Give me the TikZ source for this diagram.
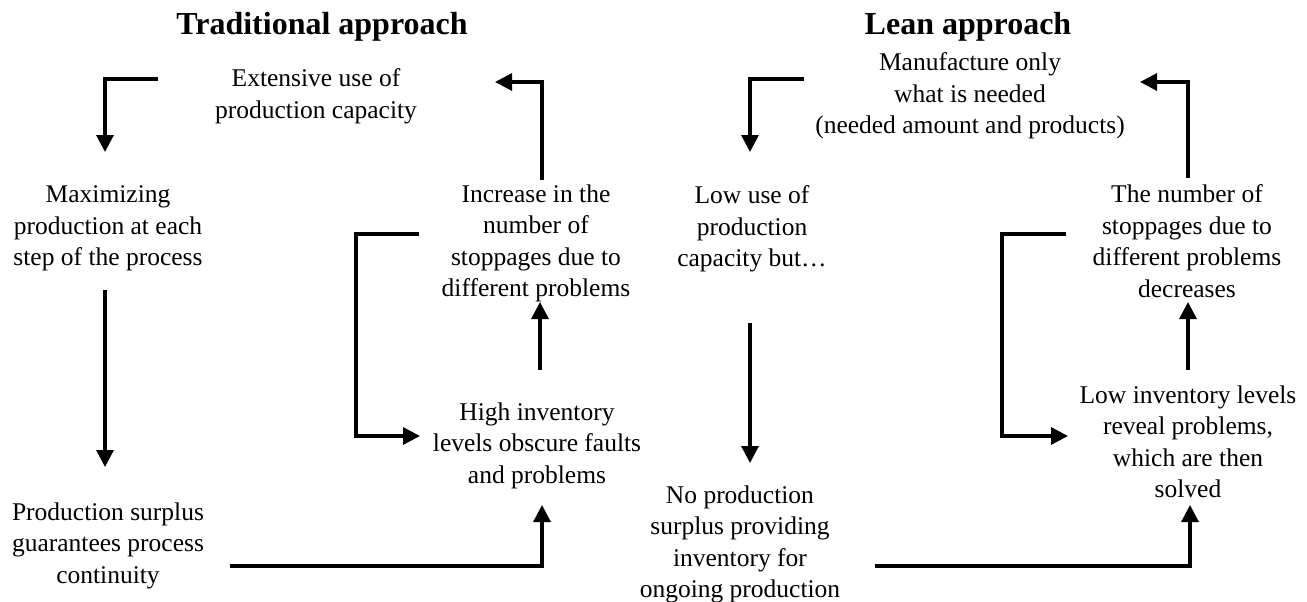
\documentclass[tikz,border=0pt]{standalone}
\usepackage{fontspec}
\setmainfont{Liberation Serif}
\usetikzlibrary{arrows.meta}
\begin{document}
\begin{tikzpicture}[x=1pt,y=-1pt,
  txt/.style={align=center, inner sep=0pt, anchor=north,
    font=\fontsize{25.5}{31.5}\selectfont},
  ttl/.style={inner sep=0pt, anchor=base,
    font=\fontsize{32}{38}\selectfont\bfseries},
  flow/.style={line width=3.2pt, -{Triangle[length=17pt,width=17pt]}},
]
\useasboundingbox (0,0) rectangle (1307,602);

% ---------- traditional cycle ----------
\node[ttl] (tradT) at (322,35) {Traditional approach};
\node[txt] (ext)  at (316,68.5) {Extensive use of\\production capacity};
\node[txt] (maxp) at (108,185.5) {Maximizing\\production at each\\step of the process};
\node[txt] (surp) at (108,502.5) {Production surplus\\guarantees process\\continuity};
\node[txt] (high) at (537,402.5) {High inventory\\levels obscure faults\\and problems};
\node[txt] (incr) at (536,184.5) {Increase in the\\number of\\stoppages due to\\different problems};

\coordinate (t1s) at (158,79);  \coordinate (t1c) at (105,79);  \coordinate (t1e) at (105,152);
\coordinate (t2s) at (105,290); \coordinate (t2e) at (105,467);
\coordinate (t3s) at (230,566); \coordinate (t3c) at (542,566); \coordinate (t3e) at (542,505);
\coordinate (t4s) at (540,370); \coordinate (t4e) at (540,302);
\coordinate (t5s) at (542,180); \coordinate (t5c) at (542,82);  \coordinate (t5e) at (495,82);
\coordinate (t6s) at (419,234); \coordinate (t6a) at (356,234); \coordinate (t6b) at (356,436);
\coordinate (t6e) at (420,436);

\draw[flow] (t1s) -- (t1c) -- (t1e);
\draw[flow] (t2s) -- (t2e);
\draw[flow] (t3s) -- (t3c) -- (t3e);
\draw[flow] (t4s) -- (t4e);
\draw[flow] (t5s) -- (t5c) -- (t5e);
\draw[flow] (t6s) -- (t6a) -- (t6b) -- (t6e);

% ---------- lean cycle ----------
\node[ttl] (leanT) at (968,35) {Lean approach};
\node[txt] (manu) at (970,52.5) {Manufacture only\\what is needed\\(needed amount and products)};
\node[txt] (lowu) at (752,185.5) {Low use of\\production\\capacity but…};
\node[txt] (nops) at (740,485.5) {No production\\surplus providing\\inventory for\\ongoing production};
\node[txt] (lowi) at (1188,385.5) {Low inventory levels\\reveal problems,\\which are then\\solved};
\node[txt] (numb) at (1187,184.5) {The number of\\stoppages due to\\different problems\\decreases};

\coordinate (l1s) at (804,79);   \coordinate (l1c) at (750,79);   \coordinate (l1e) at (750,152);
\coordinate (l2s) at (750,323);  \coordinate (l2e) at (750,463);
\coordinate (l3s) at (875,566);  \coordinate (l3c) at (1190,566); \coordinate (l3e) at (1190,505);
\coordinate (l4s) at (1188,370); \coordinate (l4e) at (1188,302);
\coordinate (l5s) at (1188,178); \coordinate (l5c) at (1188,82);  \coordinate (l5e) at (1140,82);
\coordinate (l6s) at (1066,234); \coordinate (l6a) at (1002,234); \coordinate (l6b) at (1002,436);
\coordinate (l6e) at (1068,436);

\draw[flow] (l1s) -- (l1c) -- (l1e);
\draw[flow] (l2s) -- (l2e);
\draw[flow] (l3s) -- (l3c) -- (l3e);
\draw[flow] (l4s) -- (l4e);
\draw[flow] (l5s) -- (l5c) -- (l5e);
\draw[flow] (l6s) -- (l6a) -- (l6b) -- (l6e);
\end{tikzpicture}
\end{document}
